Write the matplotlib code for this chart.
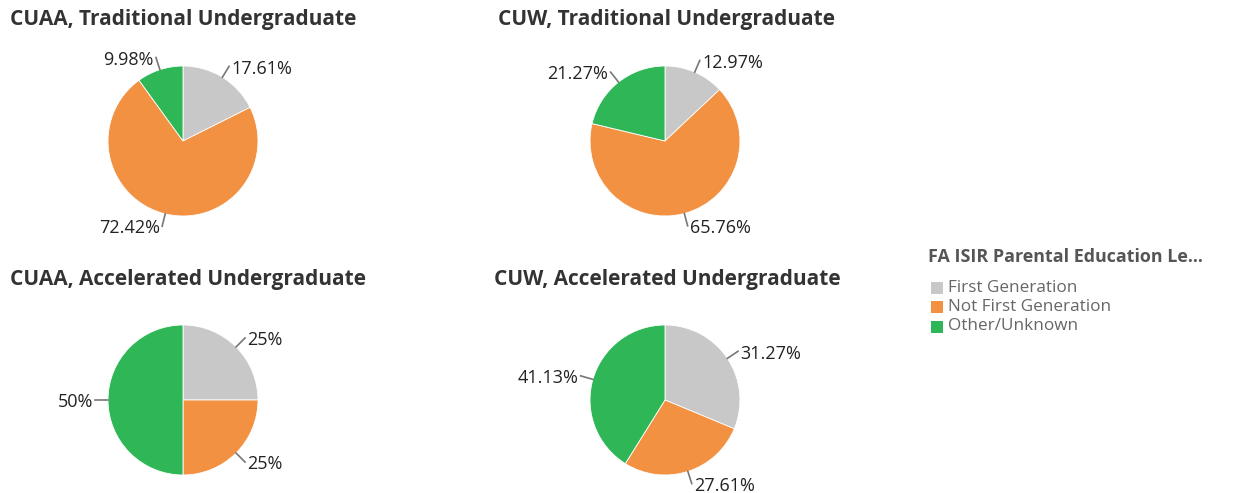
import numpy as np
import matplotlib
matplotlib.use("Agg")
import matplotlib.pyplot as plt
from matplotlib.patches import Rectangle

plt.rcParams['font.family'] = ['Open Sans', 'DejaVu Sans']

categories = ["First Generation", "Not First Generation", "Other/Unknown"]
colors = ["#c8c8c8", "#f29142", "#2fb757"]
legend_title = "FA ISIR Parental Education Le..."

titles = ["CUAA, Traditional Undergraduate", "CUW, Traditional Undergraduate",
          "CUAA, Accelerated Undergraduate", "CUW, Accelerated Undergraduate"]
cuaa_trad = [17.61, 72.42, 9.98]
cuw_trad = [12.97, 65.76, 21.27]
cuaa_acc = [25, 25, 50]
cuw_acc = [31.27, 27.61, 41.13]
labels_txt = [["17.61%", "72.42%", "9.98%"], ["12.97%", "65.76%", "21.27%"],
              ["25%", "25%", "50%"], ["31.27%", "27.61%", "41.13%"]]
values = [cuaa_trad, cuw_trad, cuaa_acc, cuw_acc]

W, H = 1243, 493
fig = plt.figure(figsize=(W / 100, H / 100), dpi=100)
ov = fig.add_axes([0, 0, 1, 1])
ov.set_xlim(0, W)
ov.set_ylim(H, 0)
ov.axis('off')

centers = [(183, 141), (665, 141), (183, 400), (665, 400)]
title_pos = [(10, 18), (498, 18), (10, 279), (494, 279)]
R = 75

for i in range(4):
    cx, cy = centers[i]
    ax = fig.add_axes([(cx - R) / W, 1 - (cy + R) / H, 2 * R / W, 2 * R / H])
    wedges, _ = ax.pie(values[i], colors=colors, startangle=90, counterclock=False,
                       radius=1, wedgeprops=dict(linewidth=0.6, edgecolor='white'))
    ax.set_xlim(-1, 1)
    ax.set_ylim(-1, 1)
    ax.set_aspect('equal')
    ax.axis('off')
    for w, lab in zip(wedges, labels_txt[i]):
        ang = np.deg2rad((w.theta1 + w.theta2) / 2)
        c, s = np.cos(ang), np.sin(ang)
        x0, y0 = c * 1.0, s * 1.0
        x1, y1 = c * 1.17, s * 1.17
        ax.plot([x0, x1], [y0, y1], color='#777777', lw=1.2, clip_on=False)
        ha = 'left' if c > 0.01 else 'right'
        xt = x1 + (0.03 if ha == 'left' else -0.03)
        ax.text(xt, y1 - 0.03, lab, ha=ha, va='center', fontsize=13, color='#222222',
                clip_on=False)
    tx, ty = title_pos[i]
    ov.text(tx, ty + 1, titles[i], fontsize=15, fontweight='bold', color='#333333',
            ha='left', va='center')

ov.text(928, 257, legend_title, fontsize=12.9, fontweight='bold', color='#555555',
        ha='left', va='center')
for k, (cat, col) in enumerate(zip(categories, colors)):
    y = 287.5 + k * 19.5
    ov.add_patch(Rectangle((931, y - 6), 12, 12, facecolor=col, edgecolor='none'))
    ov.text(948, y, cat, fontsize=12.3, color='#666666', ha='left', va='center')

fig.savefig("out.png", dpi=100, facecolor='white')
